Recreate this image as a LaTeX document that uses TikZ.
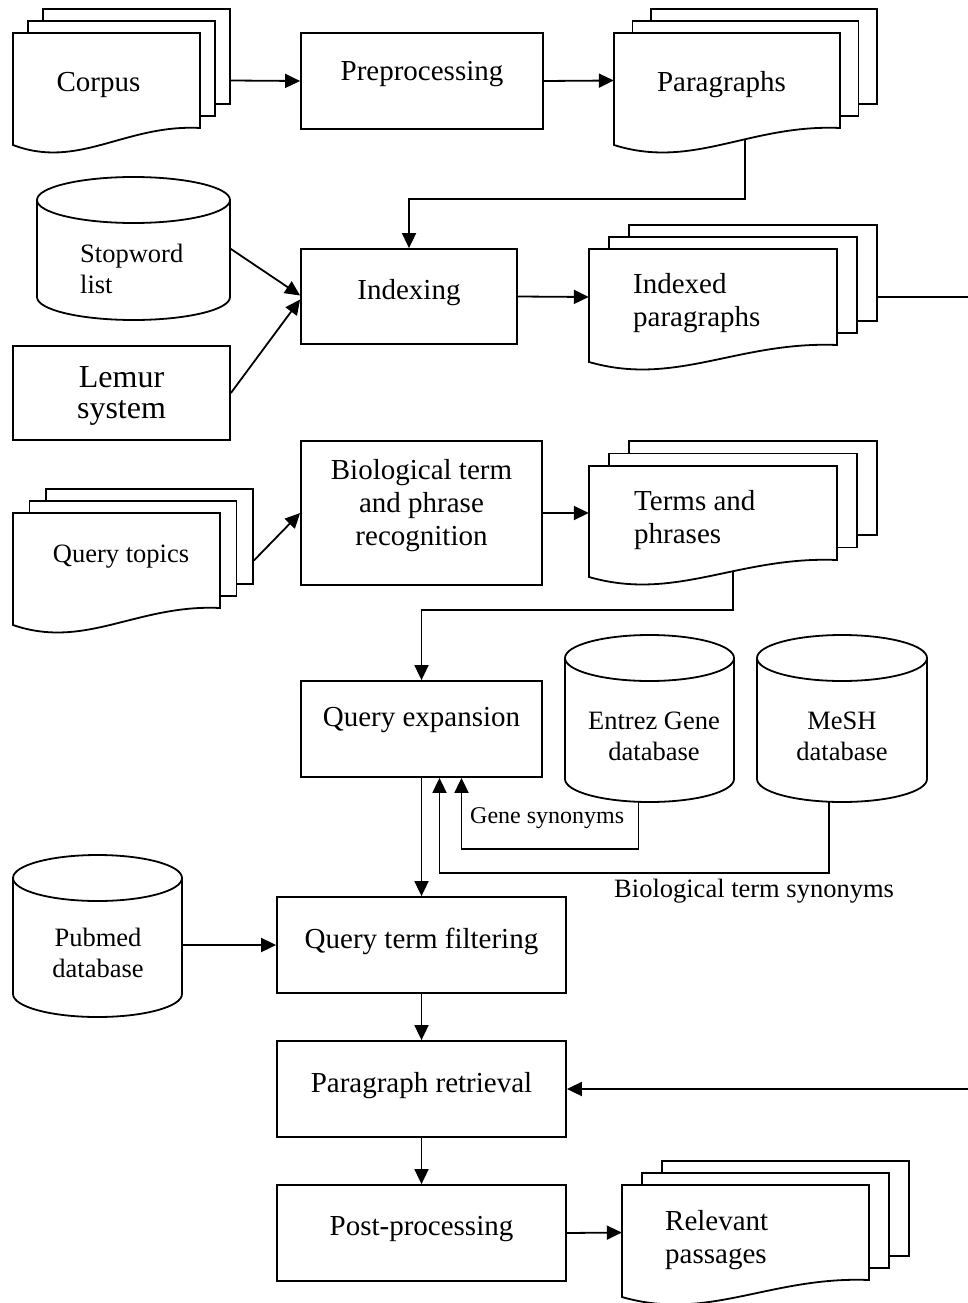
\documentclass[tikz,border=0pt]{standalone}
\usepackage{fontspec}
\setmainfont{Liberation Serif}
\usetikzlibrary{arrows.meta}

\newcommand{\bigfont}{\fontsize{29}{33}\selectfont}
\newcommand{\midfont}{\fontsize{26.5}{30.5}\selectfont}
\newcommand{\smallfont}{\fontsize{24}{28}\selectfont}
\newcommand{\hugefont}{\fontsize{32}{31}\selectfont}

\tikzset{
  line/.style={line width=1.8pt},
  arrow/.style={line, -{Triangle[length=15pt,width=14pt]}},
  box/.style={draw, line, inner sep=0pt, align=center, font=\bigfont, text height=20pt},
  page/.style={draw, line, fill=white, inner sep=0pt},
  txt/.style={inner sep=0pt, align=left},
}

% name, x0, y0, w, h, dx, dy
\newcommand{\docstack}[7]{%
  \node[page, minimum width=#4pt, minimum height=#5pt] (#1-back) at (#2+2*#6+#4/2, #3-2*#7+#5/2) {};
  \node[page, minimum width=#4pt, minimum height=#5pt] (#1-mid) at (#2+#6+#4/2, #3-#7+#5/2) {};
  \draw[page] (#2,#3+#5+17) -- (#2,#3) -- (#2+#4,#3) -- (#2+#4,#3+#5)
    .. controls (#2+0.6*#4,#3+#5-4) and (#2+0.35*#4,#3+#5+42) .. (#2,#3+#5+17) -- cycle;
  \node[inner sep=0pt, minimum width=#4pt, minimum height=#5pt] (#1) at (#2+#4/2, #3+#5/2) {};
  \coordinate (#1-foot) at (#2+0.58*#4, #3+#5+11);
}

% name, cx, rx, ytop, ybot
\newcommand{\dbcyl}[5]{%
  \draw[page] (#2-#3,#4+23) -- (#2-#3,#5-23)
    arc[start angle=180, end angle=360, x radius=#3pt, y radius=23pt] -- (#2+#3,#4+23);
  \draw[page] (#2,#4+23) ellipse [x radius=#3pt, y radius=23pt];
  \node[inner sep=0pt, minimum width={2*#3pt}, minimum height={(#5-#4)*1pt}] (#1) at (#2,{(#4+#5)/2}) {};
}

\begin{document}
\begin{tikzpicture}[x=1pt, y=-1pt]
\useasboundingbox (0,0) rectangle (967,1303);

\docstack{corpus}{13}{33}{187}{95}{15}{12}
\docstack{para}{614}{33}{226}{95}{18.5}{12}
\docstack{idxpar}{589}{249}{248}{96}{20}{12}
\docstack{qt}{13}{513}{207}{95}{16.5}{12}
\docstack{terms}{589}{466}{248}{94}{20}{12.5}
\docstack{relpass}{622}{1185}{247}{95}{20}{12}

\dbcyl{stop}{133.5}{96.5}{177}{320}
\dbcyl{entrez}{649.5}{84.5}{635}{802}
\dbcyl{mesh}{842}{85}{635}{802}
\dbcyl{pub}{97.5}{84.5}{855}{1017}

\node[box, minimum width=242pt, minimum height=96pt, text depth=20.8pt] (prep) at (422,81) {Preprocessing};
\node[box, minimum width=216pt, minimum height=95pt, text depth=13.8pt] (idx) at (409,296.5) {Indexing};
\node[box, font=\hugefont, minimum width=217pt, minimum height=94pt, text height=52pt, text depth=2pt] (lemur) at (121.5,393) {Lemur\\system};
\node[box, minimum width=241pt, minimum height=144pt, text height=72pt, text depth=8pt] (bio) at (421.5,513) {Biological term\\and phrase\\recognition};
\node[box, minimum width=241pt, minimum height=96pt, text depth=24.8pt] (qexp) at (421.5,729) {Query expansion};
\node[box, minimum width=289pt, minimum height=96pt, text depth=12.8pt] (qtf) at (421.5,945) {Query term filtering};
\node[box, minimum width=289pt, minimum height=96pt, text depth=13.8pt] (pret) at (421.5,1089) {Paragraph retrieval};
\node[box, minimum width=289pt, minimum height=96pt, text depth=14.8pt] (post) at (421.5,1233) {Post-processing};

\node[txt, font=\bigfont, anchor=base] (corpus-txt) at (98.5,92) {Corpus};
\node[txt, font=\bigfont, anchor=base] (para-txt) at (721.5,92) {Paragraphs};
\node[txt, font=\bigfont, anchor=base west] (idxpar-txt) at (633,326) {Indexed\\paragraphs};
\node[txt, font=\bigfont, anchor=base west] (terms-txt) at (634,543) {Terms and\\phrases};
\node[txt, font=\bigfont, anchor=base west] (relpass-txt) at (665,1263) {Relevant\\passages};
\node[txt, font=\midfont, anchor=base] (qt-txt) at (121,562) {Query topics};
\node[txt, font=\midfont, anchor=base west] (stop-txt) at (80,293) {Stopword\\list};
\node[txt, font=\midfont, anchor=base, align=center] (entrez-txt) at (654,760) {Entrez Gene\\database};
\node[txt, font=\midfont, anchor=base, align=center] (mesh-txt) at (842,760) {MeSH\\database};
\node[txt, font=\midfont, anchor=base, align=center] (pub-txt) at (98,977) {Pubmed\\database};
\node[txt, font=\smallfont, anchor=base west] (gene-lbl) at (470,823) {Gene synonyms};
\node[txt, font=\midfont, anchor=base west] (bioterm-lbl) at (614,897) {Biological term synonyms};

\coordinate (rim) at (980,297);

\draw[arrow] (corpus -| corpus-back.east) -- (prep.west);
\draw[arrow] (prep.east) -- (para.west);
\draw[arrow] (para-foot) |- ([yshift=49pt]idx.north) -- (idx.north);
\draw[arrow] (stop.east) -- ([yshift=1pt]idx.west);
\draw[arrow] (lemur.east) -- ([yshift=-3pt]idx.west);
\draw[arrow] (idx.east) -- (idxpar.west);
\draw[arrow] (idxpar -| idxpar-back.east) -- (rim) |- (pret.east);
\draw[arrow] (qt -| qt-back.east) -- (bio.west);
\draw[arrow] (bio.east) -- (terms.west);
\draw[arrow] (terms-foot) |- ([yshift=70pt]qexp.north) -- (qexp.north);
\draw[arrow] (qexp.south) -- (qtf.north);
\draw[arrow] ([xshift=-11pt]entrez.south) -- ++(0,47) -| ([xshift=40pt]qexp.south);
\draw[arrow] ([xshift=-13pt]mesh.south) -- ++(0,71) -| ([xshift=18pt]qexp.south);
\draw[arrow] (pub.east |- qtf.west) -- (qtf.west);
\draw[arrow] (qtf.south) -- (pret.north);
\draw[arrow] (pret.south) -- (post.north);
\draw[arrow] (post.east) -- (relpass.west);
\end{tikzpicture}
\end{document}
